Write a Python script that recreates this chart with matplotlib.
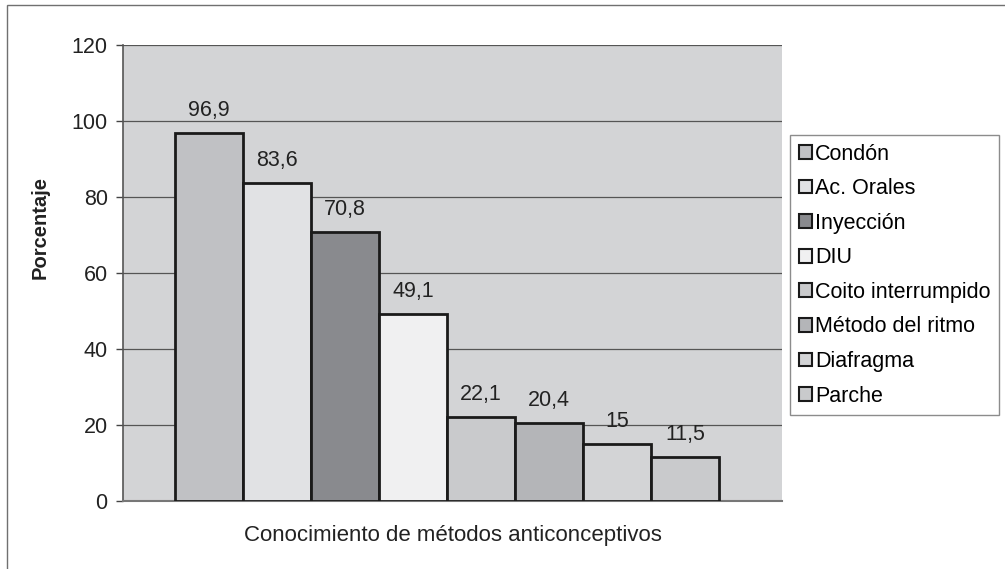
import matplotlib.pyplot as plt
import matplotlib.patches as mpatches
import numpy as np

plt.rcParams['font.family'] = ['Liberation Sans', 'DejaVu Sans']

# Data
metodos = ['Condón', 'Ac. Orales', 'Inyección', 'DIU', 'Coito interrumpido',
           'Método del ritmo', 'Diafragma', 'Parche']
porcentajes = [96.9, 83.6, 70.8, 49.1, 22.1, 20.4, 15, 11.5]
etiquetas = ['96,9', '83,6', '70,8', '49,1', '22,1', '20,4', '15', '11,5']
colores = ['#c0c1c4', '#e1e2e4', '#898a8e', '#f0f0f1', '#c9cacc',
           '#b4b5b8', '#d3d4d6', '#c9cacc']

fig = plt.figure(figsize=(10.05, 5.69), dpi=100)
fig.patch.set_facecolor('white')

# outer frame
frame = mpatches.Rectangle((7 / 1005, -0.05), 1.1, (569 - 5) / 569 + 0.05,
                           transform=fig.transFigure, fill=False,
                           edgecolor='#707070', linewidth=1.0)
fig.patches.append(frame)

ax = fig.add_axes([123 / 1005, 68 / 569, (782 - 123) / 1005, (501 - 45) / 569])
ax.set_facecolor('#d3d4d6')

x = np.arange(len(metodos))
bars = ax.bar(x, porcentajes, width=1.0, color=colores, edgecolor='#1a1a1a',
              linewidth=2, label=metodos, zorder=3)

for xi, val, lab in zip(x, porcentajes, etiquetas):
    ax.text(xi, val + 3.2, lab, ha='center', va='bottom', fontsize=15.5, color='#222222')

ax.set_xlim(-1.27, 8.43)
ax.set_ylim(0, 120)
ax.set_yticks(np.arange(0, 121, 20))
ax.tick_params(axis='y', labelsize=15.5, length=5, width=1, color='#444444',
               labelcolor='#222222', pad=6)
ax.set_xticks([])
ax.yaxis.grid(True, color='#555555', linewidth=0.9, zorder=0)
ax.set_axisbelow(True)

for side in ['top', 'right']:
    ax.spines[side].set_visible(False)
ax.spines['left'].set_color('#555555')
ax.spines['bottom'].set_color('#777777')
ax.spines['left'].set_linewidth(1.2)
ax.spines['bottom'].set_linewidth(1.5)

ax.set_ylabel('Porcentaje', fontsize=14.5, fontweight='bold', color='#222222')
ax.yaxis.set_label_coords(-0.112, 0.6)
ax.set_xlabel('Conocimiento de métodos anticonceptivos', fontsize=16,
              color='#222222', labelpad=17)

handles = [mpatches.Patch(facecolor=c, edgecolor='#1a1a1a', linewidth=1.5, label=m)
           for c, m in zip(colores, metodos)]
leg = fig.legend(handles=handles, loc='upper left',
                 bbox_to_anchor=(790 / 1005, 1 - 135 / 569),
                 fontsize=15.5, frameon=True, fancybox=False,
                 handlelength=0.6, handleheight=0.6, handletextpad=0.15,
                 labelspacing=0.63, borderpad=0.4, borderaxespad=0)
leg.get_frame().set_edgecolor('#707070')
leg.get_frame().set_linewidth(1.0)

fig.savefig('out.png', dpi=100)
